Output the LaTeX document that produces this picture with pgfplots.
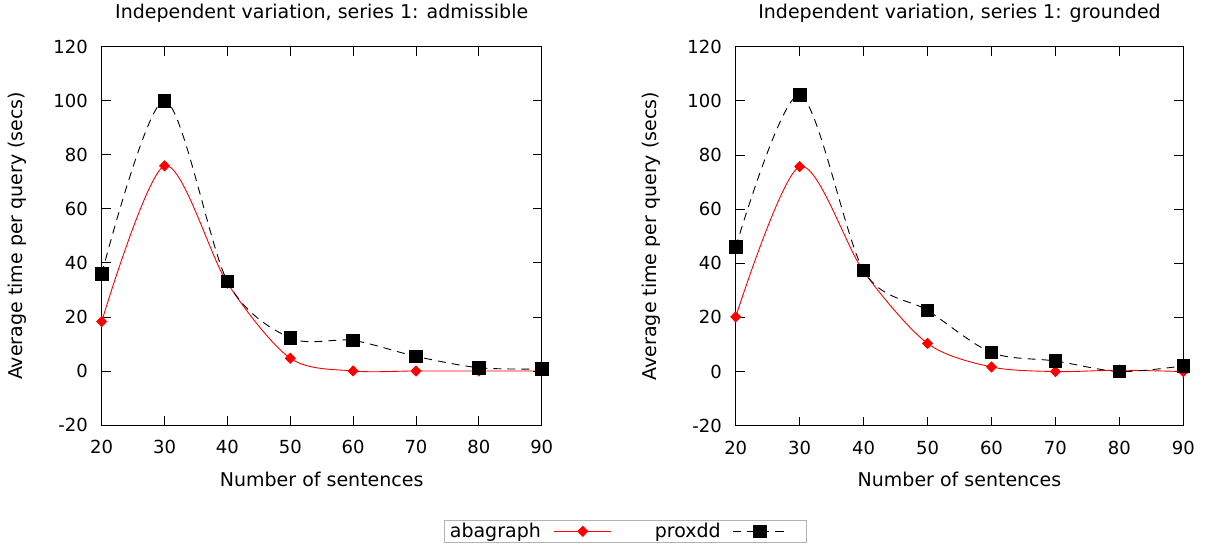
\documentclass[border=0pt]{standalone}
\usepackage{pgfplots}
\pgfplotsset{compat=1.18}
\usepackage{fontspec}
\setmainfont{DejaVu Sans}
\newcommand\fs{\fontsize{18bp}{21bp}\selectfont}
\newcommand\fl{\fontsize{19bp}{22bp}\selectfont}

\pgfplotstableread{
x aba prox
20 18.3 35.9
30 75.9 100.0
40 32.5 33.1
50 4.7 12.2
60 0.0 11.3
70 0.0 5.4
80 0.0 1.2
90 0.0 0.7
}\leftdata

\pgfplotstableread{
x aba prox
20 20.2 46.0
30 75.7 102.1
40 37.0 37.3
50 10.4 22.6
60 1.7 7.0
70 0.0 3.9
80 0.5 0.0
90 0.0 2.1
}\rightdata

\pgfplotsset{
 myaxis/.style={
  scale only axis, xmin=20, xmax=90, ymin=-20, ymax=120,
  xtick={20,30,...,90}, ytick={-20,0,...,120},
  tick align=inside, major tick length=9bp,
  axis line style={line width=1bp},
  every tick/.style={black, line width=0.8bp},
  /pgf/number format/assume math mode=true,
  tick label style={font=\fs},
  xticklabel style={anchor=base, yshift=-28.5bp, inner sep=0pt},
  yticklabel style={anchor=east, xshift=-13.7bp, inner sep=0pt},
  every axis x label/.style={at={(axis description cs:0.5,0)}, anchor=base, yshift=-61bp, font=\fl},
  every axis title/.style={at={(axis description cs:0.5,1)}, anchor=base, yshift=27.7bp, font=\fl},
  xlabel={Number of sentences},
  ylabel={Average time per query (secs)},
 },
 aba/.style={red, line width=0.9bp, smooth, mark=diamond*, mark options={solid, fill=red, draw=red, mark size=5bp, xscale=1.3},
   legend image code/.code={\draw[mark repeat=2,mark phase=2,##1] plot coordinates {(0bp,0bp) (28.5bp,0bp) (57bp,0bp)};}},
 prox/.style={black, line width=0.9bp, smooth, dash pattern=on 8bp off 6bp, mark=square*, mark options={solid, fill=black, mark size=6.3bp},
   legend image code/.code={\draw[mark repeat=2,mark phase=2,##1] plot coordinates {(0bp,0bp) (26.5bp,0bp) (53bp,0bp)}; \path (68bp,0bp);}},
}

\begin{document}
\begin{tikzpicture}[x=1bp,y=1bp]
\path[use as bounding box] (0,0) rectangle (1206,-545);

\begin{axis}[myaxis,
  at={(101.7bp,-425bp)}, anchor=south west, width=440bp, height=378.3bp,
  every axis y label/.style={at={(axis description cs:-0.1909,0.5)}, anchor=center, rotate=90, font=\fl},
  title={Independent variation, series 1: admissible},
  legend columns=2, legend plot pos=right,
  legend style={at={(axis description cs:1.1911,-0.281)}, anchor=center, draw=black!30, line width=0.8bp,
    inner xsep=5bp, inner ysep=3bp, font=\fl, column sep=0pt, row sep=0pt, nodes={inner sep=0pt}},
]
\addplot[aba] table[x=x,y=aba] {\leftdata};
\addlegendentry{\makebox[104bp][l]{abagraph}}
\addplot[prox] table[x=x,y=prox] {\leftdata};
\addlegendentry{\makebox[121bp][l]{\hspace*{43bp}proxdd}}
\end{axis}

\begin{axis}[myaxis,
  at={(735.7bp,-425.7bp)}, anchor=south west, width=447.6bp, height=379bp,
  every axis y label/.style={at={(axis description cs:-0.1877,0.5)}, anchor=center, rotate=90, font=\fl},
  title={Independent variation, series 1: grounded},
]
\addplot[aba] table[x=x,y=aba] {\rightdata};
\addplot[prox] table[x=x,y=prox] {\rightdata};
\end{axis}
\end{tikzpicture}
\end{document}
